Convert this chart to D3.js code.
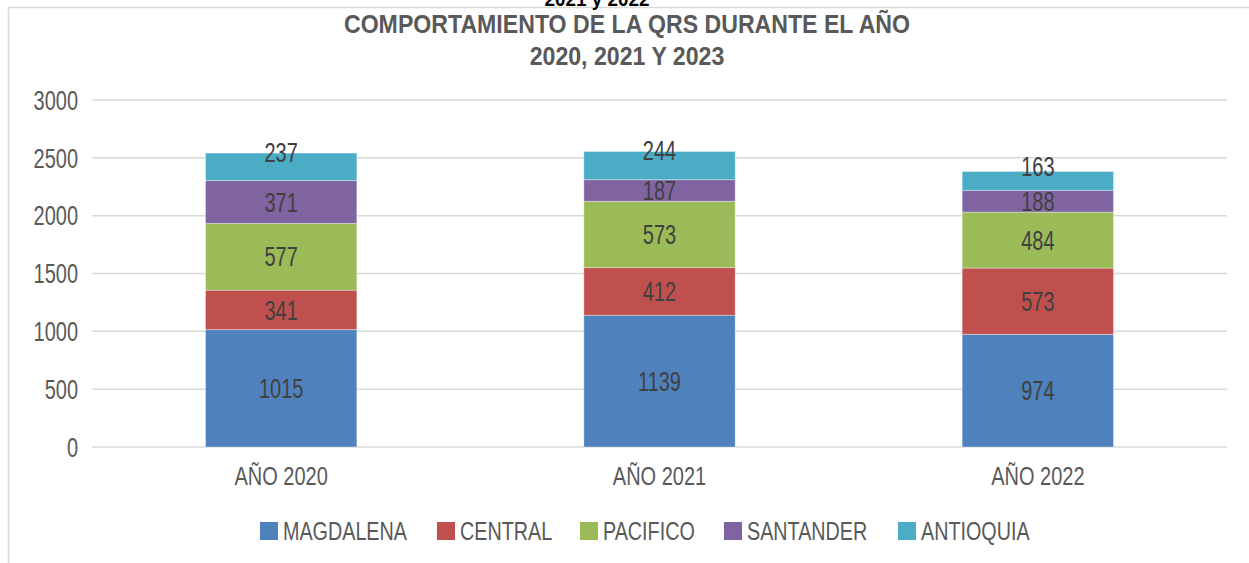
<!DOCTYPE html>
<html>
<head>
<meta charset="utf-8">
<script src="https://cdn.jsdelivr.net/npm/d3@7"></script>
<style>
  body { margin: 0; background: #fff; }
  svg { display: block; font-family: "Liberation Sans Narrow", "Arial Narrow", "Liberation Sans", sans-serif; }
</style>
</head>
<body>
<div id="chart"></div>
<script>
// data
const years = ["AÑO 2020", "AÑO 2021", "AÑO 2022"];
const regions = ["MAGDALENA", "CENTRAL", "PACIFICO", "SANTANDER", "ANTIOQUIA"];
const magdalena = [1015, 1139, 974];
const central = [341, 412, 573];
const pacifico = [577, 573, 484];
const santander = [371, 187, 188];
const antioquia = [237, 244, 163];
const yTicks = [0, 500, 1000, 1500, 2000, 2500, 3000];
const colors = ["#4F81BD", "#C0504D", "#9BBB59", "#8064A2", "#4BACC6"];

const W = 1249, H = 563;
const margin = { top: 100, right: 22, bottom: 116, left: 92 };
const width = W - margin.left - margin.right,
  height = H - margin.top - margin.bottom;

// no narrow font here, so squeeze the text sideways
function narrow(sel, s) {
  sel.attr("transform", `scale(${s},1)`)
    .attr("x", function() { return +this.getAttribute("x") / s; });
}

// build rows for d3.stack
const series = [magdalena, central, pacifico, santander, antioquia];
const rows = years.map((y, i) => {
  const r = { year: y };
  regions.forEach((k, j) => r[k] = series[j][i]);
  return r;
});

const svg = d3.select("#chart")
  .append("svg")
  .attr("width", W)
  .attr("height", H);

// outer frame (top and left only are visible)
svg.append("path")
  .attr("d", `M8.5,${H} V7.5 H${W}`)
  .attr("fill", "none")
  .attr("stroke", "#d9d9d9")
  .attr("stroke-width", 1.5);

// leftover text cut at the top of the picture
svg.append("text")
  .attr("x", 597)
  .attr("y", 6)
  .attr("text-anchor", "middle")
  .style("font-weight", "bold")
  .style("font-size", "21px")
  .style("fill", "#000")
  .text("2021 y 2022")
  .call(narrow, 0.9);

// title
const title = svg.append("text")
  .attr("text-anchor", "middle")
  .attr("transform", "scale(0.925,1)")
  .style("font-weight", "bold")
  .style("font-size", "25px")
  .style("fill", "#595959");
title.append("tspan").attr("x", 627 / 0.925).attr("y", 33).text("COMPORTAMIENTO DE LA QRS DURANTE EL AÑO");
title.append("tspan").attr("x", 627 / 0.925).attr("y", 65).text("2020, 2021 Y 2023");

const g = svg.append("g")
  .attr("transform", `translate(${margin.left},${margin.top})`);

const x = d3.scaleBand()
  .domain(years)
  .range([0, width])
  .padding(0);

const y = d3.scaleLinear()
  .domain([0, 3000])
  .range([height, 0]);

// gridlines
g.append("g")
  .selectAll("line")
  .data(yTicks)
  .join("line")
    .attr("x1", 0)
    .attr("x2", width)
    .attr("y1", d => y(d))
    .attr("y2", d => y(d))
    .attr("stroke", "#d9d9d9")
    .attr("stroke-width", 1.5);

// y labels
g.append("g")
  .selectAll("text")
  .data(yTicks)
  .join("text")
    .attr("x", -14)
    .attr("y", d => y(d))
    .attr("dy", "0.36em")
    .attr("text-anchor", "end")
    .style("font-size", "27px")
    .style("fill", "#595959")
    .text(d => d)
    .call(narrow, 0.74);

const color = d3.scaleOrdinal().domain(regions).range(colors);
const stacked = d3.stack().keys(regions)(rows);
const barW = x.bandwidth() * 0.4;

const layers = g.append("g")
  .selectAll("g")
  .data(stacked)
  .join("g")
    .attr("fill", d => color(d.key));

layers.selectAll("rect")
  .data(d => d)
  .join("rect")
    .attr("x", d => x(d.data.year) + (x.bandwidth() - barW) / 2)
    .attr("y", d => y(d[1]))
    .attr("height", d => y(d[0]) - y(d[1]))
    .attr("width", barW)
    .attr("stroke", "#ffffff")
    .attr("stroke-opacity", 0.35)
    .attr("stroke-width", 1);

// value labels (the top series sits a bit higher, as in the original)
layers.each(function(layer, li) {
  d3.select(this).selectAll("text")
    .data(layer)
    .join("text")
      .attr("x", d => x(d.data.year) + x.bandwidth() / 2)
      .attr("y", d => (y(d[0]) + y(d[1])) / 2 - (li === regions.length - 1 ? 15 : 0))
      .attr("dy", "0.36em")
      .attr("text-anchor", "middle")
      .style("font-size", "27px")
      .style("fill", "#404040")
      .text(d => d[1] - d[0])
      .call(narrow, 0.74);
});

// category labels
g.append("g")
  .selectAll("text")
  .data(years)
  .join("text")
    .attr("x", d => x(d) + x.bandwidth() / 2)
    .attr("y", height + 38)
    .attr("text-anchor", "middle")
    .style("font-size", "25px")
    .style("fill", "#595959")
    .text(d => d)
    .call(narrow, 0.8);

// legend
const legendX = [260, 437, 580, 724, 898];
const legend = svg.append("g")
  .selectAll("g")
  .data(regions)
  .join("g")
    .attr("transform", (d, i) => `translate(${legendX[i]},522)`);
legend.append("rect")
  .attr("width", 18)
  .attr("height", 18)
  .attr("fill", d => color(d));
legend.append("text")
  .attr("x", 23)
  .attr("y", 9)
  .attr("dy", "0.36em")
  .style("font-size", "25px")
  .style("fill", "#595959")
  .text(d => d)
  .call(narrow, 0.79);
</script>
</body>
</html>
